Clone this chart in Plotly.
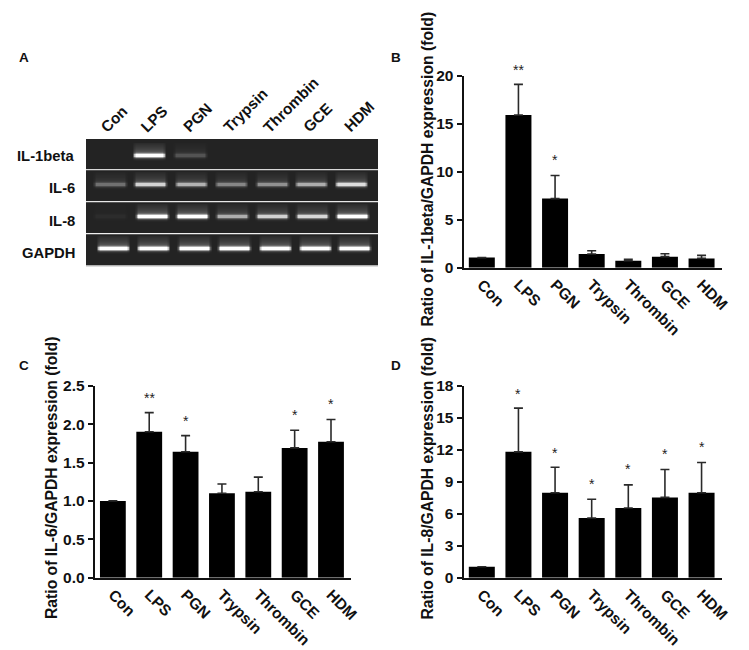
import plotly.graph_objects as go

W, H = 749, 650
FONT = "Liberation Sans"
categories = ["Con", "LPS", "PGN", "Trypsin", "Thrombin", "GCE", "HDM"]

il1_mean = [1.05, 15.9, 7.2, 1.42, 0.73, 1.15, 0.97]
il1_err = [0.0, 3.2, 2.4, 0.35, 0.14, 0.31, 0.31]
il1_star_y = [None, 20.8, 11.4, None, None, None, None]
il1_stars = ["", "**", "*", "", "", "", ""]

il6_mean = [1.0, 1.90, 1.64, 1.10, 1.12, 1.69, 1.77]
il6_err = [0.0, 0.25, 0.21, 0.12, 0.19, 0.23, 0.29]
il6_star_y = [None, 2.36, 2.07, None, None, 2.15, 2.29]
il6_stars = ["", "**", "*", "", "", "*", "*"]

il8_mean = [1.03, 11.8, 7.97, 5.6, 6.53, 7.53, 7.97]
il8_err = [0.0, 4.1, 2.38, 1.75, 2.17, 2.62, 2.83]
il8_star_y = [None, 17.4, 11.9, 8.94, 10.34, 11.75, 12.4]
il8_stars = ["", "*", "*", "*", "*", "*", "*"]

# gel band brightness per lane (0 = no band, 1 = saturated)
gel_rows = ["IL-1beta", "IL-6", "IL-8", "GAPDH"]
gel_il1 = [0.0, 1.0, 0.26, 0.0, 0.0, 0.0, 0.0]
gel_il6 = [0.38, 0.76, 0.62, 0.46, 0.50, 0.60, 0.82]
gel_il8 = [0.05, 1.0, 1.0, 0.60, 0.75, 0.78, 1.0]
gel_gapdh = [1.0, 1.0, 1.0, 1.0, 1.0, 1.0, 1.0]
gel_levels = [gel_il1, gel_il6, gel_il8, gel_gapdh]
gel_band_y = [155, 184, 216, 248]
gel_lane_rows = [
    [110, 149, 190, 231, 272, 311, 351],
    [110, 150, 191, 231, 272, 311, 351],
    [110, 152, 192, 232, 272, 312, 352],
    [113, 153, 194, 234, 275, 315, 354],
]
# brightness of a band by pixel offset from its centre (top to bottom)
band_profile = [0.05, 0.07, 0.09, 0.11, 0.13, 0.15, 0.18, 0.22, 0.26, 0.36, 0.60, 1.0, 1.0, 1.0, 0.55, 0.22, 0.07, 0.02]
band_first_offset = -12
lane_half = 16


def px_x(x):
    return x / W


def px_y(y):
    return 1 - y / H


# build the gel image
gel_x = list(range(86, 379, 2))
gel_y = list(range(139, 266))
gel_z = []
for y in gel_y:
    row = []
    for x in gel_x:
        v = 0.0
        for levels, lanes, cy, top, bot in zip(gel_levels, gel_lane_rows, gel_band_y, [139, 170, 202, 234], [169, 201, 233, 265]):
            if not (top <= y <= bot):
                continue
            idx = y - cy - band_first_offset
            if 0 <= idx < len(band_profile):
                for lx, lev in zip(lanes, levels):
                    d = abs(x - lx)
                    edge = 1.0 if d <= lane_half - 2 else max(0.0, 1 - (d - lane_half + 2) / 3)
                    v = max(v, lev * band_profile[idx] * edge)
        row.append(v)
    gel_z.append(row)

fig = go.Figure()
fig.add_trace(go.Heatmap(
    x=gel_x, y=gel_y, z=gel_z, zmin=0, zmax=1, zsmooth="best", showscale=False,
    colorscale=[[0, "#232323"], [0.3, "#5a5a5a"], [0.7, "#c8c8c8"], [1, "#ffffff"]],
    xaxis="x4", yaxis="y4", hoverinfo="skip"))


panels = [
    dict(mean=il1_mean, err=il1_err, stars=il1_stars, sy=il1_star_y, ymax=20, dtick=5, x0=463.5, x1=721.7, y0=267.7, y1=75.7,
         ax="", fmt="d", title="Ratio of IL-1beta/GAPDH expression (fold)", tx=427, ty=168.5),
    dict(mean=il6_mean, err=il6_err, stars=il6_stars, sy=il6_star_y, ymax=2.5, dtick=0.5, x0=94.7, x1=351, y0=577.7, y1=385.7,
         ax="2", fmt=".1f", title="Ratio of IL-6/GAPDH expression (fold)", tx=51.5, ty=478.5),
    dict(mean=il8_mean, err=il8_err, stars=il8_stars, sy=il8_star_y, ymax=18, dtick=3, x0=463.5, x1=721.7, y0=577.7, y1=385.7,
         ax="3", fmt="d", title="Ratio of IL-8/GAPDH expression (fold)", tx=427, ty=478.5),
]

annotations = []
layout_axes = {}
for p in panels:
    a = p["ax"]
    fig.add_trace(go.Bar(
        x=categories, y=p["mean"], width=0.71, xaxis="x" + a, yaxis="y" + a,
        marker=dict(color="#000000", line=dict(color="#000000", width=0)),
        error_y=dict(type="data", symmetric=False, array=p["err"], arrayminus=[0] * 7,
                     color="#2a2a2a", thickness=1.6, width=4.5),
        showlegend=False))
    layout_axes["xaxis" + a] = dict(
        domain=[px_x(p["x0"]), px_x(p["x1"])], anchor="y" + a, type="category", categoryorder="array",
        categoryarray=categories, range=[-0.5, 6.55], showgrid=False, zeroline=False, automargin=False,
        showline=True, linecolor="#111111", linewidth=2, ticks="", tickangle=45,
        tickfont=dict(family=FONT, size=15.5, color="#111111", weight="bold"))
    layout_axes["yaxis" + a] = dict(
        domain=[px_y(p["y0"]), px_y(p["y1"])], anchor="x" + a, range=[0, p["ymax"]], dtick=p["dtick"], automargin=False,
        tick0=0, tickformat=p["fmt"], showgrid=False, zeroline=False, showline=True, linecolor="#111111",
        linewidth=2, ticks="outside", ticklen=5, tickwidth=2, tickcolor="#111111",
        tickfont=dict(family=FONT, size=15.5, color="#111111", weight="bold"))
    for i, (c, s, y) in enumerate(zip(categories, p["stars"], p["sy"])):
        if s:
            # placed on the page because some stars sit above the axis top
            sy_px = p["y0"] + (y / p["ymax"]) * (p["y1"] - p["y0"])
            sx_px = p["x0"] + (i + 0.5) / 7.05 * (p["x1"] - p["x0"])
            annotations.append(dict(x=px_x(sx_px), y=px_y(sy_px), xref="paper", yref="paper", text=s, showarrow=False,
                                    xanchor="center", yanchor="middle",
                                    yshift=-2, font=dict(family=FONT, size=14, color="#222222")))
    annotations.append(dict(x=px_x(p["tx"]), y=px_y(p["ty"]), xref="paper", yref="paper", text=p["title"],
                            textangle=-90, showarrow=False, xanchor="center", yanchor="middle",
                            font=dict(family=FONT, size=15.7, color="#111111", weight="bold")))

layout_axes["xaxis4"] = dict(domain=[px_x(86), px_x(378)], anchor="y4", range=[86, 378], visible=False, automargin=False)
layout_axes["yaxis4"] = dict(domain=[px_y(265.5), px_y(139)], anchor="x4", range=[265.5, 139], visible=False, automargin=False)

# gel lane labels
lane_label_left = [95, 135, 177, 217, 257, 297, 338]
for c, left in zip(categories, lane_label_left):
    annotations.append(dict(x=px_x(left), y=px_y(138), xref="paper", yref="paper", text=c, textangle=-45,
                            showarrow=False, xanchor="left", yanchor="bottom",
                            font=dict(family=FONT, size=15.3, color="#111111", weight="bold")))
# gel row labels
row_label_y = [156, 188, 221, 253]
for t, y in zip(gel_rows, row_label_y):
    annotations.append(dict(x=px_x(76.5), y=px_y(y), xref="paper", yref="paper", text=t, showarrow=False,
                            xanchor="right", yanchor="middle",
                            font=dict(family=FONT, size=14.8, color="#111111", weight="bold")))
# panel letters
for t, x, y in [("A", 24, 57), ("B", 396, 57), ("C", 24, 366), ("D", 396, 366)]:
    annotations.append(dict(x=px_x(x), y=px_y(y), xref="paper", yref="paper", text=t, showarrow=False,
                            xanchor="center", yanchor="middle",
                            font=dict(family=FONT, size=13.5, color="#111111", weight="bold")))

shapes = []
for y, col in [(169.6, "#d8d8d8"), (201.6, "#e8e8e8"), (233.6, "#f0f0f0"), (265.8, "#bbbbbb")]:
    shapes.append(dict(type="line", xref="paper", yref="paper", x0=px_x(86), x1=px_x(378),
                       y0=px_y(y), y1=px_y(y), line=dict(color=col, width=1.2)))

fig.update_layout(width=W, height=H, margin=dict(l=0, r=0, t=0, b=0), paper_bgcolor="white", plot_bgcolor="white",
                  showlegend=False, annotations=annotations, shapes=shapes, **layout_axes)
fig.write_html("out.html", config={"displayModeBar": False},
               post_script="document.body.style.margin='0';document.documentElement.style.overflow='hidden';")
